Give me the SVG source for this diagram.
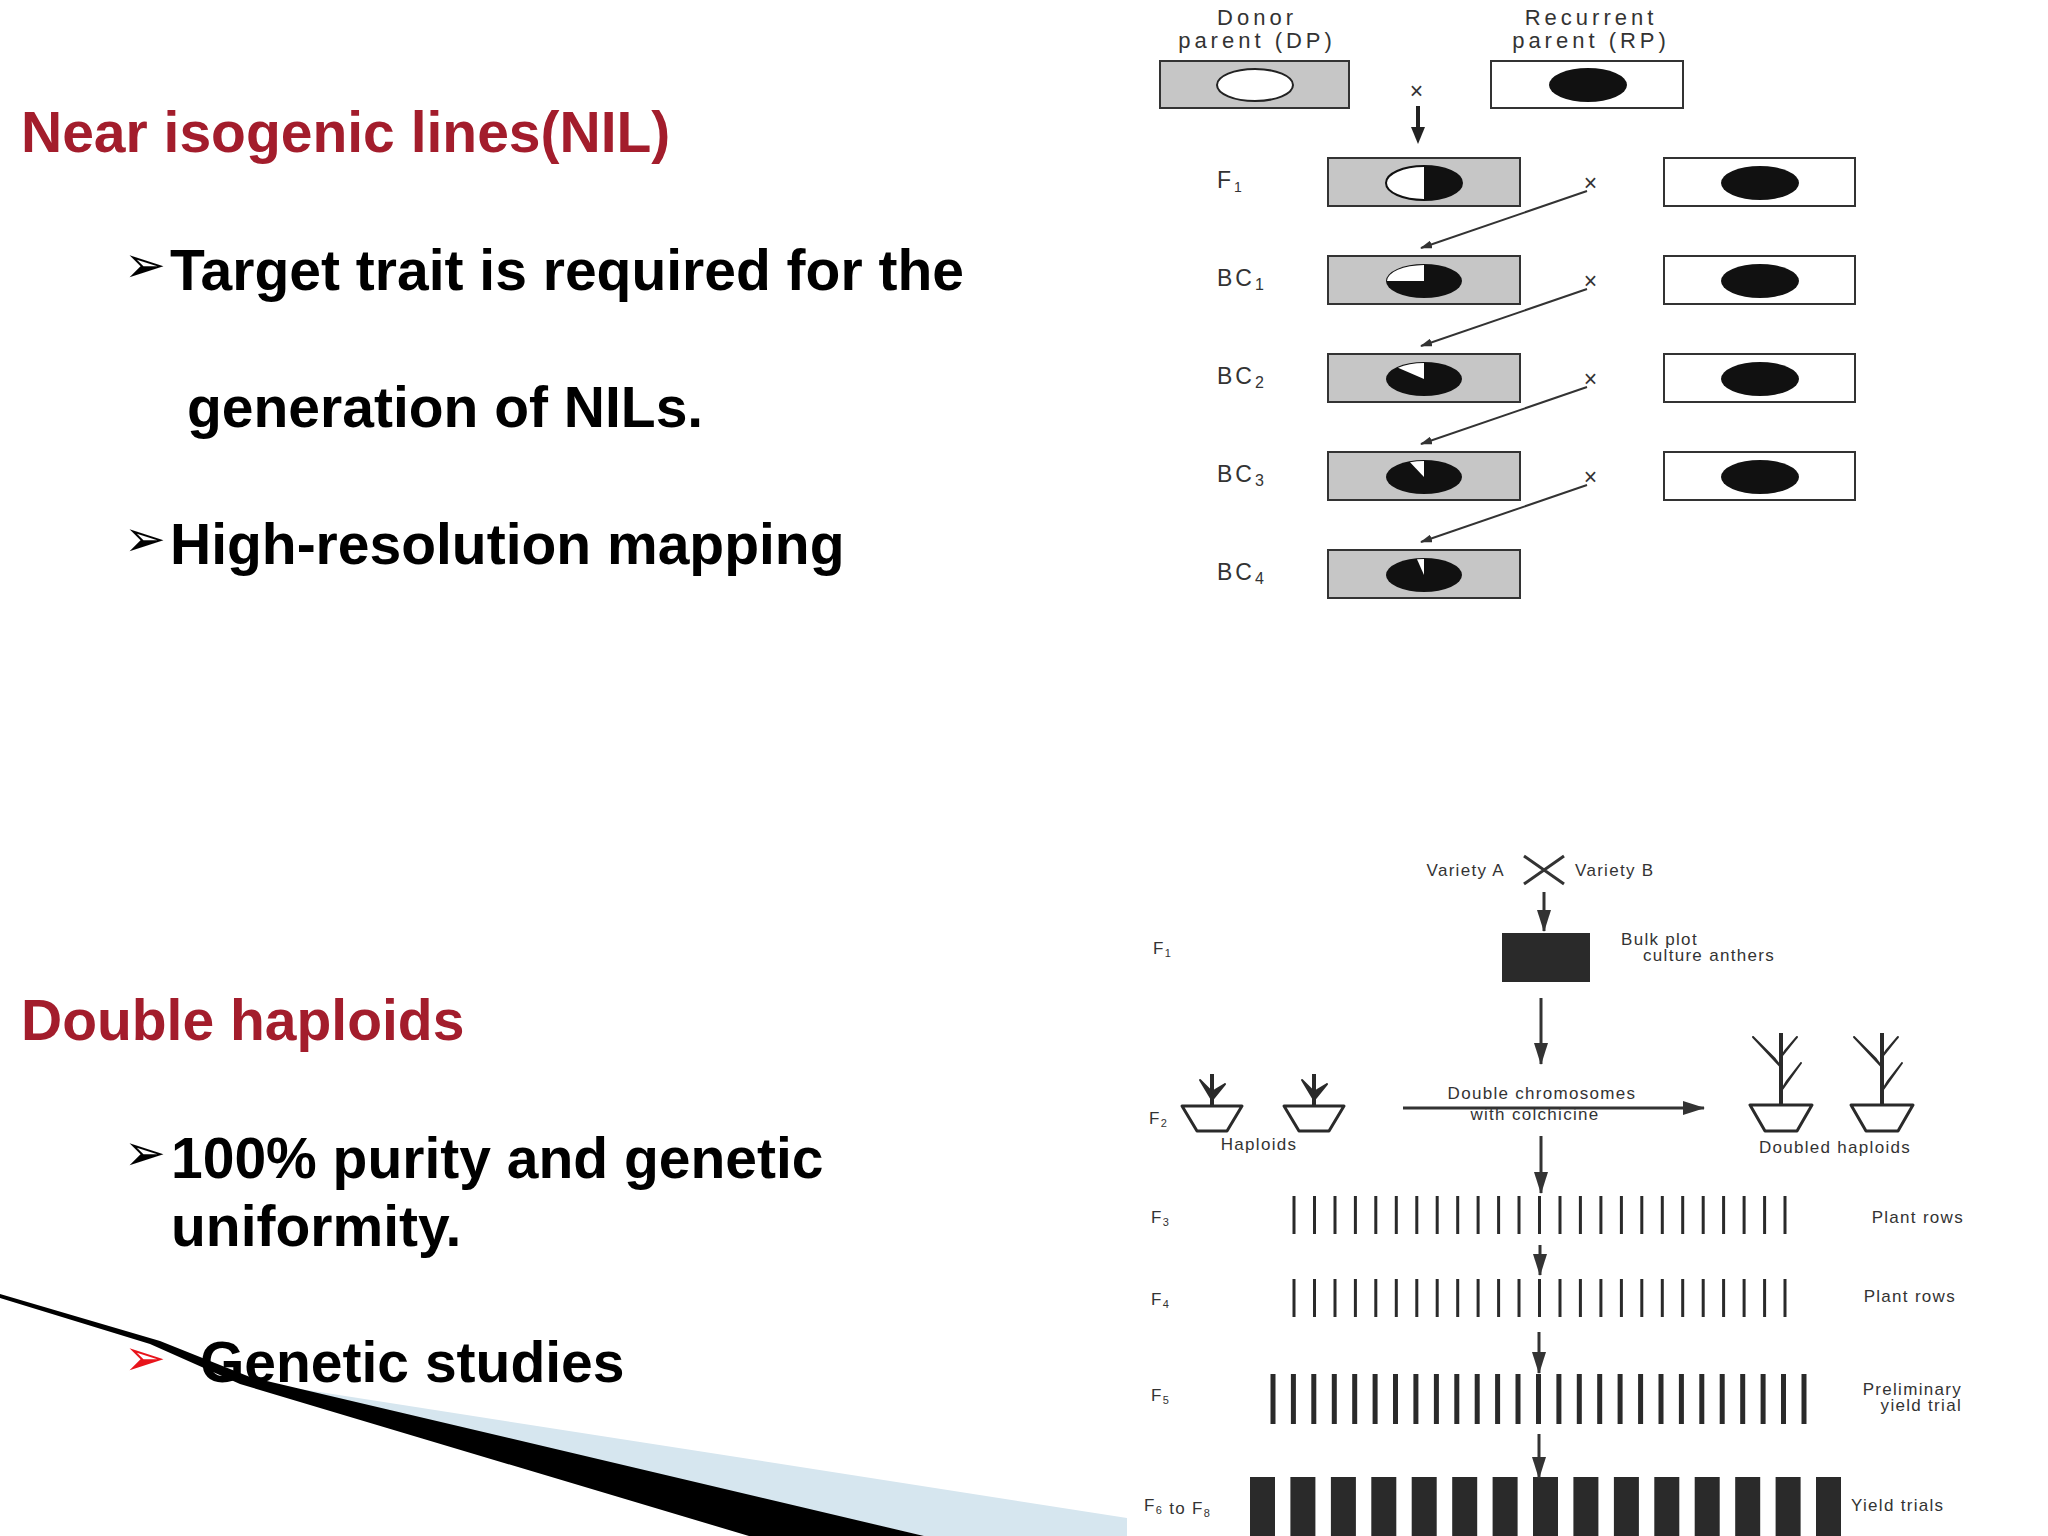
<svg xmlns="http://www.w3.org/2000/svg" width="2048" height="1536" viewBox="0 0 2048 1536">
<style>
.ttl{font-family:"Liberation Sans",Arial,sans-serif;font-weight:bold;font-size:57px;fill:#A31D2C}
.bul{font-family:"Liberation Sans",Arial,sans-serif;font-weight:bold;font-size:57px;fill:#000}
.arw{font-family:"DejaVu Sans",sans-serif;font-size:50px;fill:#000}
.lb{font-family:"Liberation Sans",Arial,sans-serif;font-size:23px;fill:#333;letter-spacing:3px}
.hd{font-family:"Liberation Sans",Arial,sans-serif;font-size:22px;fill:#333;letter-spacing:4px}
.sm{font-family:"Liberation Sans",Arial,sans-serif;font-size:17px;fill:#333;letter-spacing:1.3px}
.gbox{fill:#c6c6c6;stroke:#333;stroke-width:2}
.wbox{fill:#fff;stroke:#333;stroke-width:2}
.cn{stroke:#333;stroke-width:2;fill:none}
.cn2{stroke:#333;stroke-width:3;fill:none}
.pot{fill:#fff;stroke:#2a2a2a;stroke-width:3;stroke-linejoin:round}
.leaf{fill:#2a2a2a;stroke:#2a2a2a;stroke-width:2;stroke-linejoin:round}
</style>
<defs>
<marker id="ah" markerWidth="12" markerHeight="8" refX="11" refY="4" orient="auto" markerUnits="userSpaceOnUse"><path d="M0,0 L12,4 L0,8 Z" fill="#333"/></marker>
<marker id="ab" markerWidth="22" markerHeight="14" refX="21" refY="7" orient="auto" markerUnits="userSpaceOnUse"><path d="M0,0 L22,7 L0,14 Z" fill="#333"/></marker>
<path id="r25" d="M1294 0v38M1314.5 0v38M1335 0v38M1355.4 0v38M1375.8 0v38M1396.3 0v38M1416.8 0v38M1437.2 0v38M1457.7 0v38M1478.1 0v38M1498.6 0v38M1519 0v38M1539.5 0v38M1560 0v38M1580.4 0v38M1600.9 0v38M1621.4 0v38M1641.8 0v38M1662.3 0v38M1682.7 0v38M1703.2 0v38M1723.6 0v38M1744.1 0v38M1764.6 0v38M1785 0v38" stroke="#2a2a2a" stroke-width="3"/>
<g id="hap"><path class="pot" d="M-30 0 L30 0 L15 25 L-15 25 Z"/><path d="M0 0 V-32" stroke="#2a2a2a" stroke-width="4"/><path class="leaf" d="M0 -6 L-12 -26 L-2 -16 Z M0 -6 L13 -22 L3 -16 Z"/></g>
<g id="dbl"><path class="pot" d="M-31 0 L31 0 L16 26 L-16 26 Z"/><path d="M0 0 V-72" stroke="#2a2a2a" stroke-width="4"/><path class="leaf" d="M0 -14 L20 -42 L6 -24 Z M0 -38 L-28 -68 L-6 -46 Z M0 -48 L16 -68 L4 -54 Z"/></g>
</defs>
<rect width="2048" height="1536" fill="#fff"/>

<g id="nil-text">
<text class="ttl" x="21" y="152">Near isogenic lines(NIL)</text>
<text class="arw" x="124" y="282">➢</text><text class="bul" x="170" y="290">Target trait is required for the</text>
<text class="bul" x="187" y="427">generation of NILs.</text>
<text class="arw" x="124" y="556">➢</text><text class="bul" x="170" y="564">High-resolution mapping</text>
</g>
<g id="dh-text">
<text class="ttl" x="21" y="1040">Double haploids</text>
<text class="arw" x="124" y="1170">➢</text><text class="bul" x="171" y="1178">100% purity and genetic</text>
<text class="bul" x="171" y="1246">uniformity.</text>
</g>
<g id="swoosh">
<path d="M230,1378 L1127,1518 L1127,1536 L924,1536 Z" fill="#d6e6ef"/>
<path d="M0,1294 L160,1341 L250,1377 L924,1536 L749,1536 L240,1384 L150,1344 L0,1298 Z" fill="#000"/>
</g>
<text class="arw" x="124" y="1375" style="fill:#e8141b">➢</text>
<text class="bul" x="200" y="1382">Genetic studies</text>

<g id="backcross">
<text class="hd" x="1257" y="25" text-anchor="middle">Donor</text>
<text class="hd" x="1257" y="48" text-anchor="middle">parent (DP)</text>
<text class="hd" x="1591" y="25" text-anchor="middle">Recurrent</text>
<text class="hd" x="1591" y="48" text-anchor="middle">parent (RP)</text>
<g id="dp"><rect class="gbox" x="1160" y="61" width="189" height="47"/><ellipse cx="1255" cy="85" rx="38" ry="16" fill="#fff" stroke="#222" stroke-width="2"/></g>
<g id="rp"><rect class="wbox" x="1491" y="61" width="192" height="47"/><ellipse cx="1588" cy="85" rx="39" ry="17" fill="#111"/></g>
<text class="lb" x="1418" y="99" text-anchor="middle">×</text>
<g id="f1"><rect class="gbox" x="1328" y="158" width="192" height="48"/><ellipse cx="1424" cy="183" rx="38" ry="17" fill="#111"/><path d="M1424 166 A38 17 0 0 0 1424 200 Z" fill="#fff"/><ellipse cx="1424" cy="183" rx="38" ry="17" fill="none" stroke="#111" stroke-width="2"/></g>
<g id="bc1"><rect class="gbox" x="1328" y="256" width="192" height="48"/><ellipse cx="1424" cy="281" rx="38" ry="17" fill="#111"/><path d="M1424 281 L1424 265 A38 16 0 0 0 1387 281 Z" fill="#fff"/></g>
<g id="bc2"><rect class="gbox" x="1328" y="354" width="192" height="48"/><ellipse cx="1424" cy="379" rx="38" ry="17" fill="#111"/><path d="M1424 379 L1424 363 A38 16 0 0 0 1398 367.7 Z" fill="#fff"/></g>
<g id="bc3"><rect class="gbox" x="1328" y="452" width="192" height="48"/><ellipse cx="1424" cy="477" rx="38" ry="17" fill="#111"/><path d="M1424 477 L1424 461 A38 16 0 0 0 1410 462.2 Z" fill="#fff"/></g>
<g id="bc4"><rect class="gbox" x="1328" y="550" width="192" height="48"/><ellipse cx="1424" cy="575" rx="38" ry="17" fill="#111"/><path d="M1424 575 L1424 559 A38 16 0 0 0 1417 559.3 Z" fill="#fff"/></g>
<g id="rp1"><rect class="wbox" x="1664" y="158" width="191" height="48"/><ellipse cx="1760" cy="183" rx="39" ry="17" fill="#111"/></g>
<g id="rp2"><rect class="wbox" x="1664" y="256" width="191" height="48"/><ellipse cx="1760" cy="281" rx="39" ry="17" fill="#111"/></g>
<g id="rp3"><rect class="wbox" x="1664" y="354" width="191" height="48"/><ellipse cx="1760" cy="379" rx="39" ry="17" fill="#111"/></g>
<g id="rp4"><rect class="wbox" x="1664" y="452" width="191" height="48"/><ellipse cx="1760" cy="477" rx="39" ry="17" fill="#111"/></g>
<text class="lb" x="1217" y="188">F<tspan font-size="14" dy="4">1</tspan></text>
<text class="lb" x="1217" y="286">BC<tspan font-size="16" dy="4">1</tspan></text>
<text class="lb" x="1217" y="384">BC<tspan font-size="16" dy="4">2</tspan></text>
<text class="lb" x="1217" y="482">BC<tspan font-size="16" dy="4">3</tspan></text>
<text class="lb" x="1217" y="580">BC<tspan font-size="16" dy="4">4</tspan></text>
<text class="lb" x="1592" y="191" text-anchor="middle">×</text>
<text class="lb" x="1592" y="289" text-anchor="middle">×</text>
<text class="lb" x="1592" y="387" text-anchor="middle">×</text>
<text class="lb" x="1592" y="485" text-anchor="middle">×</text>
</g>
<g id="connectors-top">
<path d="M1418 106 L1418 128" stroke="#222" stroke-width="4"/><path d="M1411 127 L1425 127 L1418 144 Z" fill="#222"/>
<path class="cn" marker-end="url(#ah)" d="M1587 191 L1421 248"/>
<path class="cn" marker-end="url(#ah)" d="M1587 289 L1421 346"/>
<path class="cn" marker-end="url(#ah)" d="M1587 387 L1421 444"/>
<path class="cn" marker-end="url(#ah)" d="M1587 485 L1421 542"/>
</g>

<g id="doubled-haploid">
<text class="sm" x="1505" y="876" text-anchor="end">Variety A</text>
<path d="M1524 856 L1564 884 M1564 856 L1524 884" stroke="#333" stroke-width="3"/>
<text class="sm" x="1575" y="876">Variety B</text>
<rect x="1502" y="933" width="88" height="49" fill="#2a2a2a"/>
<text class="sm" x="1621" y="945">Bulk plot</text>
<text class="sm" x="1643" y="961">culture anthers</text>
<text class="sm" x="1153" y="954">F<tspan font-size="11" dy="3">1</tspan></text>
<use href="#hap" x="1212" y="1106"/>
<use href="#hap" x="1314" y="1106"/>
<use href="#dbl" x="1781" y="1105"/>
<use href="#dbl" x="1882" y="1105"/>
<text class="sm" x="1149" y="1124">F<tspan font-size="11" dy="3">2</tspan></text>
<text class="sm" x="1259" y="1150" text-anchor="middle">Haploids</text>
<text class="sm" x="1542" y="1099" text-anchor="middle">Double chromosomes</text>
<text class="sm" x="1535" y="1120" text-anchor="middle">with colchicine</text>
<text class="sm" x="1835" y="1153" text-anchor="middle">Doubled haploids</text>
<use href="#r25" y="1196"/>
<use href="#r25" y="1279"/>
<path d="M1273 0v50M1293.4 0v50M1313.8 0v50M1334.3 0v50M1354.7 0v50M1375.1 0v50M1395.5 0v50M1415.9 0v50M1436.4 0v50M1456.8 0v50M1477.2 0v50M1497.6 0v50M1518 0v50M1538.5 0v50M1558.9 0v50M1579.3 0v50M1599.7 0v50M1620.1 0v50M1640.6 0v50M1661 0v50M1681.4 0v50M1701.8 0v50M1722.2 0v50M1742.7 0v50M1763.1 0v50M1783.5 0v50M1804 0v50" transform="translate(0,1374)" stroke="#2a2a2a" stroke-width="5"/>
<g fill="#2a2a2a">
<rect x="1250" y="1477" width="25" height="60"/><rect x="1290.4" y="1477" width="25" height="60"/><rect x="1330.9" y="1477" width="25" height="60"/><rect x="1371.3" y="1477" width="25" height="60"/><rect x="1411.7" y="1477" width="25" height="60"/><rect x="1452.2" y="1477" width="25" height="60"/><rect x="1492.6" y="1477" width="25" height="60"/><rect x="1533" y="1477" width="25" height="60"/><rect x="1573.4" y="1477" width="25" height="60"/><rect x="1613.9" y="1477" width="25" height="60"/><rect x="1654.3" y="1477" width="25" height="60"/><rect x="1694.7" y="1477" width="25" height="60"/><rect x="1735.2" y="1477" width="25" height="60"/><rect x="1775.6" y="1477" width="25" height="60"/><rect x="1816" y="1477" width="25" height="60"/>
</g>
<text class="sm" x="1151" y="1223">F<tspan font-size="11" dy="3">3</tspan></text>
<text class="sm" x="1964" y="1223" text-anchor="end">Plant rows</text>
<text class="sm" x="1151" y="1305">F<tspan font-size="11" dy="3">4</tspan></text>
<text class="sm" x="1956" y="1302" text-anchor="end">Plant rows</text>
<text class="sm" x="1151" y="1401">F<tspan font-size="11" dy="3">5</tspan></text>
<text class="sm" x="1962" y="1395" text-anchor="end">Preliminary</text>
<text class="sm" x="1962" y="1411" text-anchor="end">yield trial</text>
<text class="sm" x="1144" y="1511">F<tspan font-size="11" dy="3">6</tspan> to F<tspan font-size="11" dy="3">8</tspan></text>
<text class="sm" x="1851" y="1511">Yield trials</text>
</g>
<g id="connectors-bottom">
<path class="cn2" marker-end="url(#ab)" d="M1544 892 V931"/>
<path class="cn2" marker-end="url(#ab)" d="M1541 998 V1064"/>
<path class="cn2" marker-end="url(#ab)" d="M1403 1108 H1704"/>
<path class="cn2" marker-end="url(#ab)" d="M1541 1136 V1193"/>
<path class="cn2" marker-end="url(#ab)" d="M1540 1245 V1275"/>
<path class="cn2" marker-end="url(#ab)" d="M1539 1332 V1373"/>
<path class="cn2" marker-end="url(#ab)" d="M1539 1434 V1478"/>
</g>
</svg>
